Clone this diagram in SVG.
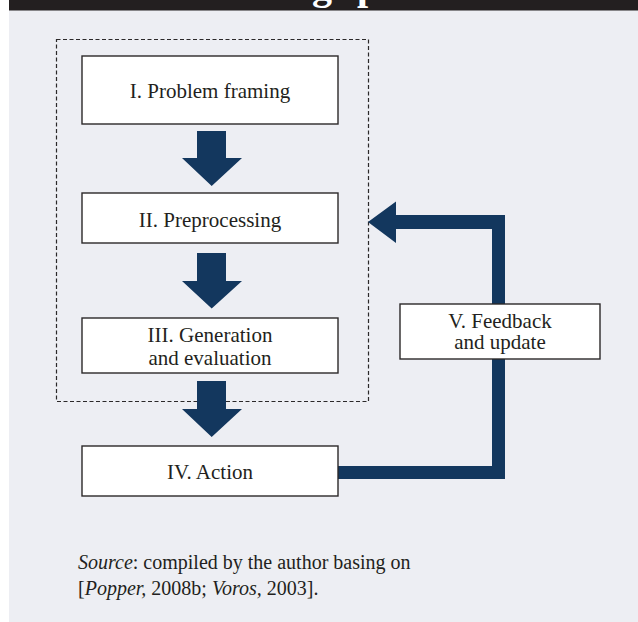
<svg xmlns="http://www.w3.org/2000/svg" width="638" height="622" viewBox="0 0 638 622">
<defs>
<style>
.box{fill:#ffffff;stroke:#2b2829;stroke-width:1.4}
.lbl{font-size:21px;fill:#231f20;text-anchor:middle}
.flow{fill:#13375e}
.src{font-size:20px;fill:#231f20}
</style>
<clipPath id="hdr"><rect x="9" y="0" width="629" height="10"/></clipPath>
</defs>
<rect x="0" y="0" width="638" height="622" fill="#ffffff"/>
<rect x="9" y="10" width="629" height="612" fill="#edeef3"/>
<rect x="9" y="0" width="629" height="10.5" fill="#231f20"/>
<text y="-1.5" clip-path="url(#hdr)" font-family="Liberation Serif, serif" font-weight="bold" font-size="40" fill="#ffffff"><tspan x="206">Foresight</tspan> <tspan x="357">process</tspan></text>
<rect x="56.5" y="39.5" width="312" height="362" fill="none" stroke="#2b2829" stroke-width="1.2" stroke-dasharray="4 2.5"/>
<g id="connectors">
<path class="flow" d="M197,131H226V158H242L211.7,186L182,158H197Z"/>
<path class="flow" d="M197,253H226V281H242L211.7,308.5L182,281H197Z"/>
<path class="flow" d="M197,381H226V409H242L211.7,437L182,409H197Z"/>
<path class="flow" d="M338,466H492V229H396V243L368,222L396,201.5V215H505V479H338Z"/>
</g>
<g font-family="Liberation Serif, serif">
<g id="n1"><rect class="box" x="82" y="56" width="256" height="68"/><text class="lbl" x="210" y="98">I. Problem framing</text></g>
<g id="n2"><rect class="box" x="82" y="193" width="256" height="50"/><text class="lbl" x="210" y="226.5">II. Preprocessing</text></g>
<g id="n3"><rect class="box" x="82" y="318" width="256" height="55"/><text class="lbl" x="210" y="342">III. Generation</text><text class="lbl" x="210" y="364.5">and evaluation</text></g>
<g id="n4"><rect class="box" x="82" y="446" width="256" height="50"/><text class="lbl" x="210" y="479">IV. Action</text></g>
<g id="n5"><rect class="box" x="400" y="304" width="200" height="55"/><text class="lbl" x="500" y="327.5" font-size="20">V. Feedback</text><text class="lbl" x="500" y="349" font-size="20">and update</text></g>
<g id="source">
<text class="src" x="78" y="569"><tspan font-style="italic">Source</tspan>: compiled by the author basing on</text>
<text class="src" x="78" y="595">[<tspan font-style="italic">Popper,</tspan> 2008b; <tspan font-style="italic">Voros,</tspan> 2003].</text>
</g>
</g>
</svg>
